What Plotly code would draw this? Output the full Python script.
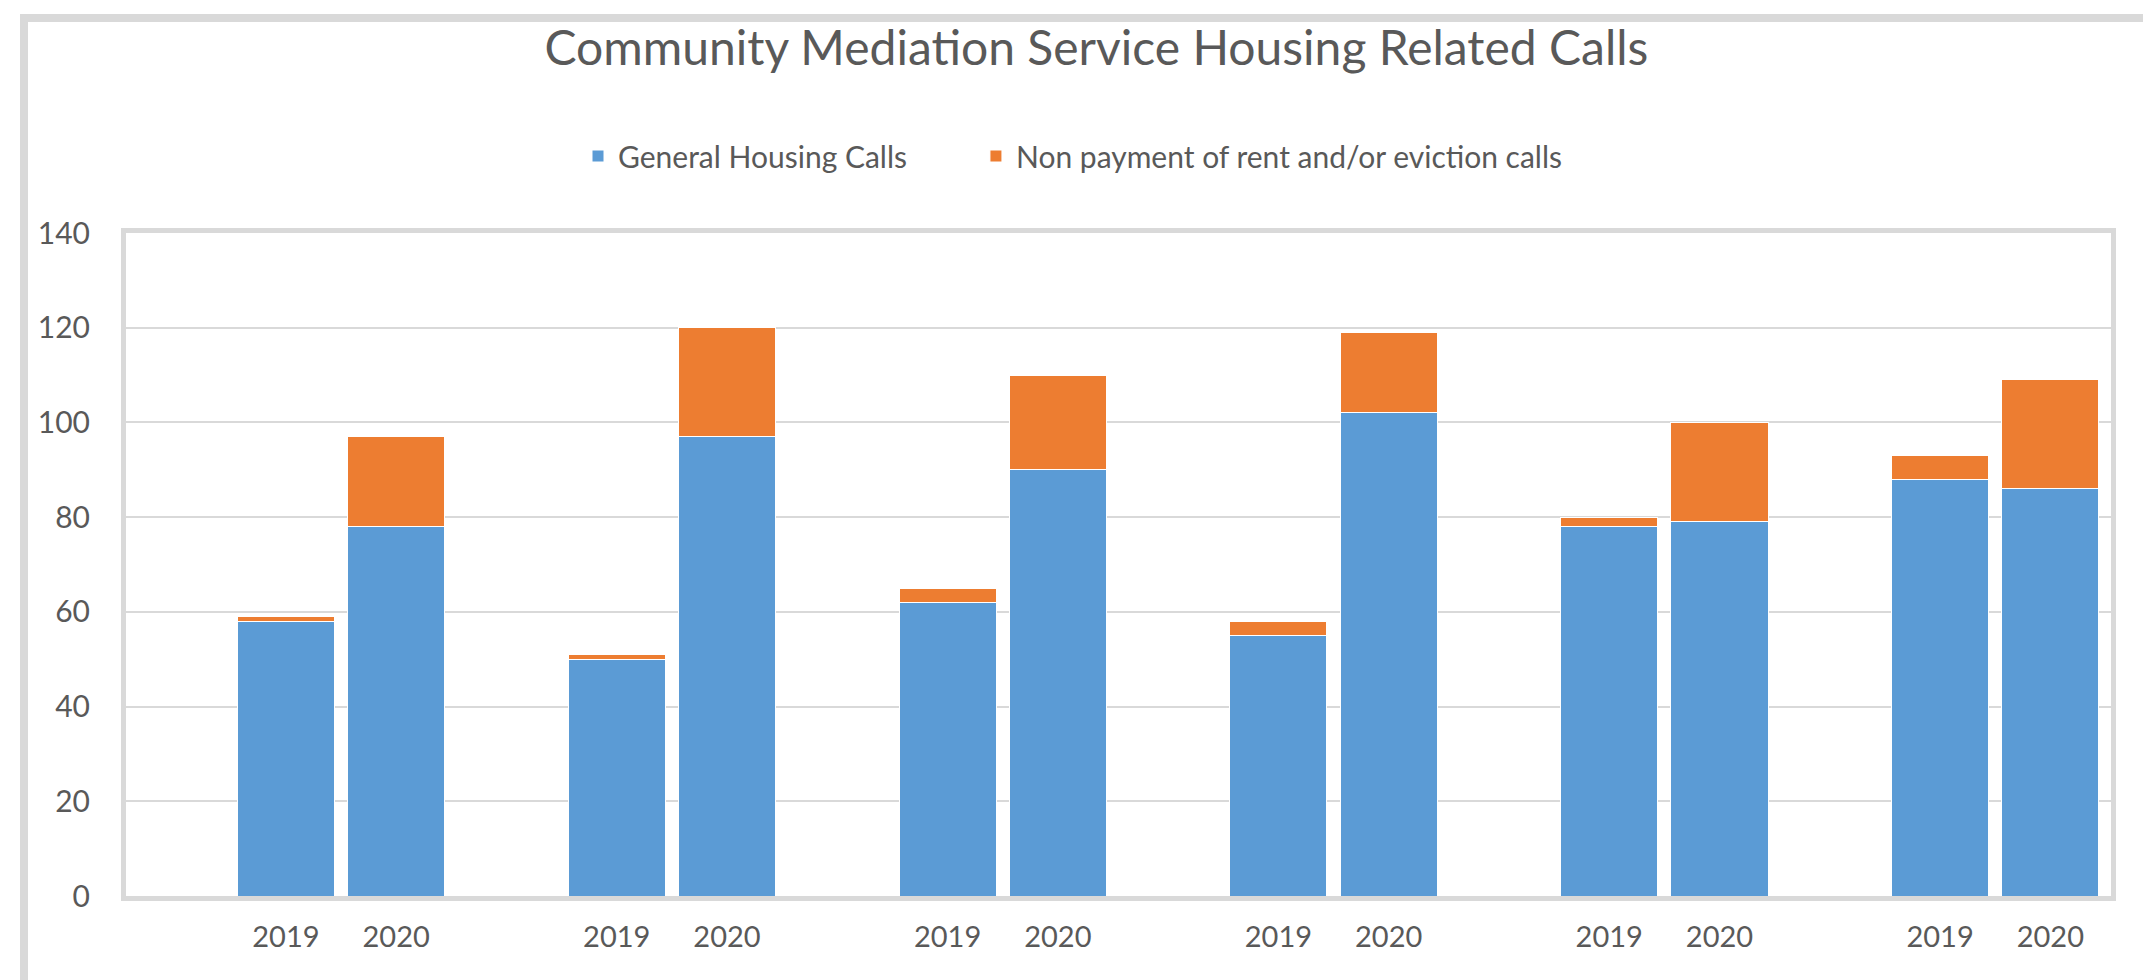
import plotly.graph_objects as go

# ---- data ----
years = ["2019", "2020"]
n_groups = 6
general_2019 = [58, 50, 62, 55, 78, 88]
general_2020 = [78, 97, 90, 102, 79, 86]
nonpay_2019 = [1, 1, 3, 3, 2, 5]
nonpay_2020 = [19, 23, 20, 17, 21, 23]
series_names = ["General Housing Calls", "Non payment of rent and/or eviction calls"]
y_ticks = [0, 20, 40, 60, 80, 100, 120, 140]

# ---- build category slots: each group = [blank, 2019, 2020] ----
x_pos, x_lab, gen, non = [], [], [], []
for g in range(n_groups):
    for k, yr in enumerate(years):
        x_pos.append(3 * g + 1 + k)
        x_lab.append(yr)
    gen += [general_2019[g], general_2020[g]]
    non += [nonpay_2019[g], nonpay_2020[g]]

BLUE = "#5B9BD5"
ORANGE = "#ED7D31"
GRID = "#D9D9D9"
TXT = "#595959"
FONT = "Lato, sans-serif"

fig = go.Figure()
fig.add_trace(go.Bar(x=x_pos, y=gen, name=series_names[0], legend="legend",
                     marker=dict(color=BLUE, line=dict(color="white", width=1))))
fig.add_trace(go.Bar(x=x_pos, y=non, name=series_names[1], legend="legend2",
                     marker=dict(color=ORANGE, line=dict(color="white", width=1))))

W, H = 2151, 980
ml, mr, mt, mb = 118, 48, 225, 92
pw, ph = W - ml - mr, H - mt - mb

leg_common = dict(orientation="h", xref="container", yref="container",
                  xanchor="left", y=1 - 148 / H, yanchor="middle",
                  font=dict(size=30, color=TXT, family=FONT), itemwidth=30,
                  bgcolor="rgba(0,0,0,0)")

fig.update_layout(
    width=W, height=H,
    barmode="stack", bargap=0.12,
    paper_bgcolor="white", plot_bgcolor="white",
    margin=dict(l=ml, r=mr, t=mt, b=mb),
    font=dict(family=FONT, color=TXT),
    title=dict(text="Community Mediation Service Housing Related Calls",
               x=0.506, xanchor="center", y=1 - 40 / H, yanchor="middle",
               font=dict(size=48, color=TXT, family=FONT)),
    legend=dict(x=0.265, **leg_common),
    legend2=dict(x=0.4500, **leg_common),
    xaxis=dict(range=[-0.45, 3 * n_groups - 0.45], tickvals=x_pos, ticktext=x_lab,
               showgrid=False, zeroline=False, showline=True, linecolor=GRID,
               linewidth=5, mirror=True, ticks="", ticklabelstandoff=11,
               tickfont=dict(size=29, color=TXT, family=FONT)),
    yaxis=dict(range=[0, 140], tickvals=y_ticks, showgrid=True, gridcolor=GRID,
               gridwidth=1.5, zeroline=False, showline=True, linecolor=GRID,
               linewidth=5, mirror=True, ticks="", ticklabelstandoff=25,
               tickfont=dict(size=30, color=TXT, family=FONT)),
    showlegend=True,
)

# outer chart border
fig.add_shape(type="rect", xref="paper", yref="paper",
              x0=(16 - ml) / pw, x1=(2142 - ml) / pw,
              y0=(H - mb - 976) / ph, y1=(H - mb - 10) / ph,
              line=dict(color=GRID, width=8), fillcolor="rgba(0,0,0,0)", layer="below")

fig.write_html("out.html")
